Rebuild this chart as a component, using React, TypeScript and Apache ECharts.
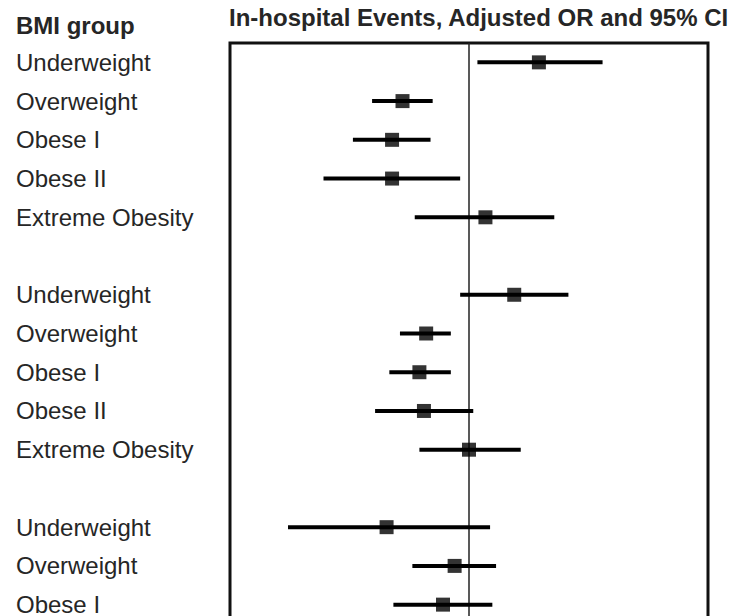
import React, { useEffect, useRef } from "react";
import * as echarts from "echarts";

const categories = [
  "Underweight",
  "Overweight",
  "Obese I",
  "Obese II",
  "Extreme Obesity",
  "",
  "Underweight",
  "Overweight",
  "Obese I",
  "Obese II",
  "Extreme Obesity",
  "",
  "Underweight",
  "Overweight",
  "Obese I",
];

const oddsRatio = [1.5, 0.68, 0.64, 0.64, 1.1, null, 1.3, 0.78, 0.75, 0.77, 1.0, null, 0.62, 0.92, 0.86];
const ciLower = [1.05, 0.57, 0.51, 0.43, 0.73, null, 0.95, 0.67, 0.63, 0.58, 0.75, null, 0.35, 0.72, 0.645];
const ciUpper = [2.17, 0.81, 0.8, 0.95, 1.64, null, 1.78, 0.9, 0.9, 1.025, 1.35, null, 1.13, 1.17, 1.145];

const titleText = "In-hospital Events, Adjusted OR and 95% CI";
const headerText = "BMI group";

export default function App() {
  const ref = useRef<HTMLDivElement>(null);

  useEffect(() => {
    if (!ref.current) return;
    const chart = echarts.init(ref.current, undefined, { renderer: "svg" });

    const ciData: any[] = [];
    const ptData: any[] = [];
    categories.forEach((_, i) => {
      if (oddsRatio[i] == null) return;
      ciData.push([ciLower[i], ciUpper[i], i]);
      ptData.push([oddsRatio[i], i]);
    });

    const font = "'Liberation Sans', Arial, Helvetica, sans-serif";
    const textColor = "#262626";

    chart.setOption({
      animation: false,
      backgroundColor: "#ffffff",
      title: [
        {
          text: titleText,
          left: 229,
          top: 5,
          padding: 0,
          textStyle: { fontFamily: font, fontWeight: "bold", fontSize: 24, color: textColor },
        },
        {
          text: headerText,
          left: 16,
          top: 13,
          padding: 0,
          textStyle: { fontFamily: font, fontWeight: "bold", fontSize: 24, color: textColor },
        },
      ],
      grid: {
        left: 230,
        top: 43,
        width: 478,
        height: 581,
        show: true,
        borderColor: "#111",
        borderWidth: 3,
        backgroundColor: "transparent",
      },
      xAxis: {
        type: "log",
        logBase: 2,
        min: 0.25,
        max: 4,
        axisLine: { show: false },
        axisTick: { show: false },
        axisLabel: { show: false },
        splitLine: { show: false },
      },
      yAxis: {
        type: "category",
        data: categories,
        inverse: true,
        axisLine: { show: false },
        axisTick: { show: false },
        splitLine: { show: false },
        axisLabel: {
          interval: 0,
          align: "left",
          margin: 214,
          fontFamily: font,
          fontSize: 24,
          lineHeight: 20,
          color: textColor,
        },
      },
      series: [
        {
          type: "custom",
          data: ciData,
          encode: { x: [0, 1], y: 2 },
          silent: true,
          renderItem: (params: any, api: any) => {
            const y = api.value(2);
            const p1 = api.coord([api.value(0), y]);
            const p2 = api.coord([api.value(1), y]);
            return {
              type: "line",
              shape: { x1: p1[0], y1: p1[1], x2: p2[0], y2: p2[1] },
              style: { stroke: "#000", lineWidth: 4 },
            };
          },
          z: 3,
        },
        {
          type: "scatter",
          data: ptData,
          symbol: "rect",
          symbolSize: 14,
          itemStyle: { color: "#000" },
          silent: true,
          z: 4,
          markLine: {
            silent: true,
            symbol: ["none", "none"],
            label: { show: false },
            lineStyle: { color: "#222", width: 1.5, type: "solid" },
            data: [{ xAxis: 1 }],
            z: 2,
          },
        },
      ],
    });

    return () => chart.dispose();
  }, []);

  return (
    <div
      style={{
        position: "absolute",
        left: 0,
        top: 0,
        width: 733,
        height: 616,
        overflow: "hidden",
        background: "#fff",
      }}
    >
      <div ref={ref} style={{ width: 733, height: 660 }} />
    </div>
  );
}
